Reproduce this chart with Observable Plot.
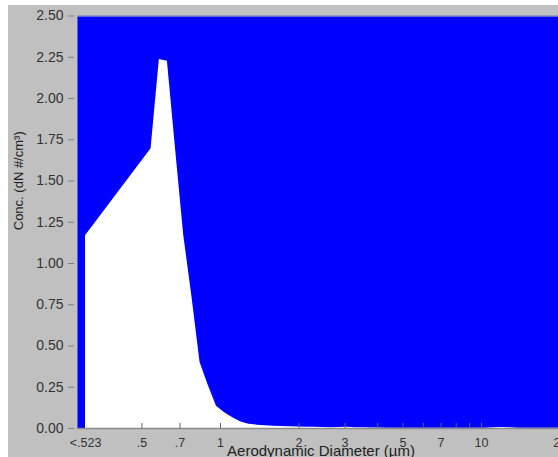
<!DOCTYPE html>
<html>
<head>
<meta charset="utf-8">
<script src="https://cdn.jsdelivr.net/npm/d3@7"></script>
<script src="https://cdn.jsdelivr.net/npm/@observablehq/plot@0.6"></script>
<style>
  html, body { margin: 0; padding: 0; background: #ffffff; }
  #chart { position: absolute; left: 8px; top: 5px; width: 550px; height: 452px; background: #c0c0c0; overflow: hidden; }
</style>
</head>
<body>
<div id="chart"></div>
<script>
// Bin midpoints (µm); first entry is the "<.523" bin
const diameters = [0.304, 0.542, 0.583, 0.626, 0.673, 0.723, 0.777, 0.835, 0.898, 0.965,
  1.037, 1.114, 1.197, 1.286, 1.382, 1.486, 1.596, 1.715, 1.843, 1.981,
  2.129, 2.288, 2.458, 2.642, 2.839, 3.051, 3.278, 3.523, 3.786, 4.068,
  4.371, 4.698, 5.048, 5.425, 5.829, 6.264, 6.732, 7.234, 7.774, 8.354,
  8.977, 9.647, 10.37, 11.14, 11.97, 12.86, 13.82, 14.86, 15.96, 17.15, 18.43, 19.81];
const concentrations = [1.168, 1.695, 2.236, 2.226, 1.69, 1.17, 0.80, 0.40, 0.26, 0.135,
  0.095, 0.065, 0.040, 0.026, 0.020, 0.016, 0.014, 0.012, 0.010, 0.009,
  0.008, 0.007, 0.006, 0.005, 0.006, 0.008, 0.005, 0.004, 0.003, 0.003,
  0.002, 0.002, 0.002, 0.002, 0.001, 0.001, 0.001, 0.001, 0.001, 0.001,
  0.001, 0.001, 0.002, 0.004, 0.006, 0.004, 0.002, 0.001, 0.001, 0.001, 0.001, 0.001];

const xTickValues = [0.304, 0.5, 0.7, 1, 2, 3, 5, 7, 10, 20];
const xTickLabels = ["<.523", ".5", ".7", "1", "2", "3", "5", "7", "10", "20"];
const xTickMarks = [0.5, 0.7, 1, 2, 3, 4, 5, 6, 7, 8, 9, 10];
const yTickValues = [0, 0.25, 0.5, 0.75, 1, 1.25, 1.5, 1.75, 2, 2.25, 2.5];

const xTitle = "Aerodynamic Diameter (µm)";
const yTitle = "Conc. (dN #/cm³)";

const data = diameters.map((d, i) => ({d, c: concentrations[i]}));
const xTicks = xTickValues.map((v, i) => ({v, label: xTickLabels[i]}));

const W = 550, H = 452, mL = 69, mR = 0, mT = 10.5, mB = 29;
const innerH = H - mT - mB;

const chart = Plot.plot({
  width: W,
  height: H,
  marginLeft: mL,
  marginRight: mR,
  marginTop: mT,
  marginBottom: mB,
  style: {background: "#c0c0c0", fontFamily: "'Liberation Sans', Arial, sans-serif", overflow: "hidden"},
  x: {type: "log", domain: [0.2832, 19.72], axis: null},
  y: {domain: [0, 2.5]},
  marks: [
    Plot.frame({fill: "#0000fe", stroke: null}),
    Plot.areaY(data, {x: "d", y: "c", fill: "white", curve: "linear"}),
    Plot.ruleY([2.5], {stroke: "#8c8cc8", strokeWidth: 1.5}),
    Plot.ruleY([0], {stroke: "#8a8a8a", strokeWidth: 1.5}),
    Plot.tickX(xTickMarks, {x: d => d, stroke: "#5f5f80", insetTop: innerH - 5}),
    Plot.text(xTicks, {
      x: "v", text: "label", frameAnchor: "bottom", lineAnchor: "top", dy: 10,
      fontSize: 12.5, fill: "#333"
    }),
    Plot.axisY(yTickValues, {
      tickSize: 6, tickPadding: 5, dx: -3, label: null,
      tickFormat: d3.format(".2f"),
      stroke: "#808080", fontSize: 14, fill: "#333"
    }),
    Plot.text([xTitle], {frameAnchor: "bottom", dy: 27, dx: 3, lineAnchor: "bottom", fontSize: 15, fill: "#222"}),
    Plot.text([yTitle], {frameAnchor: "left", dx: -59, dy: 8, rotate: -90, fontSize: 13, fill: "#222"})
  ]
});
document.getElementById("chart").appendChild(chart);
</script>
</body>
</html>
